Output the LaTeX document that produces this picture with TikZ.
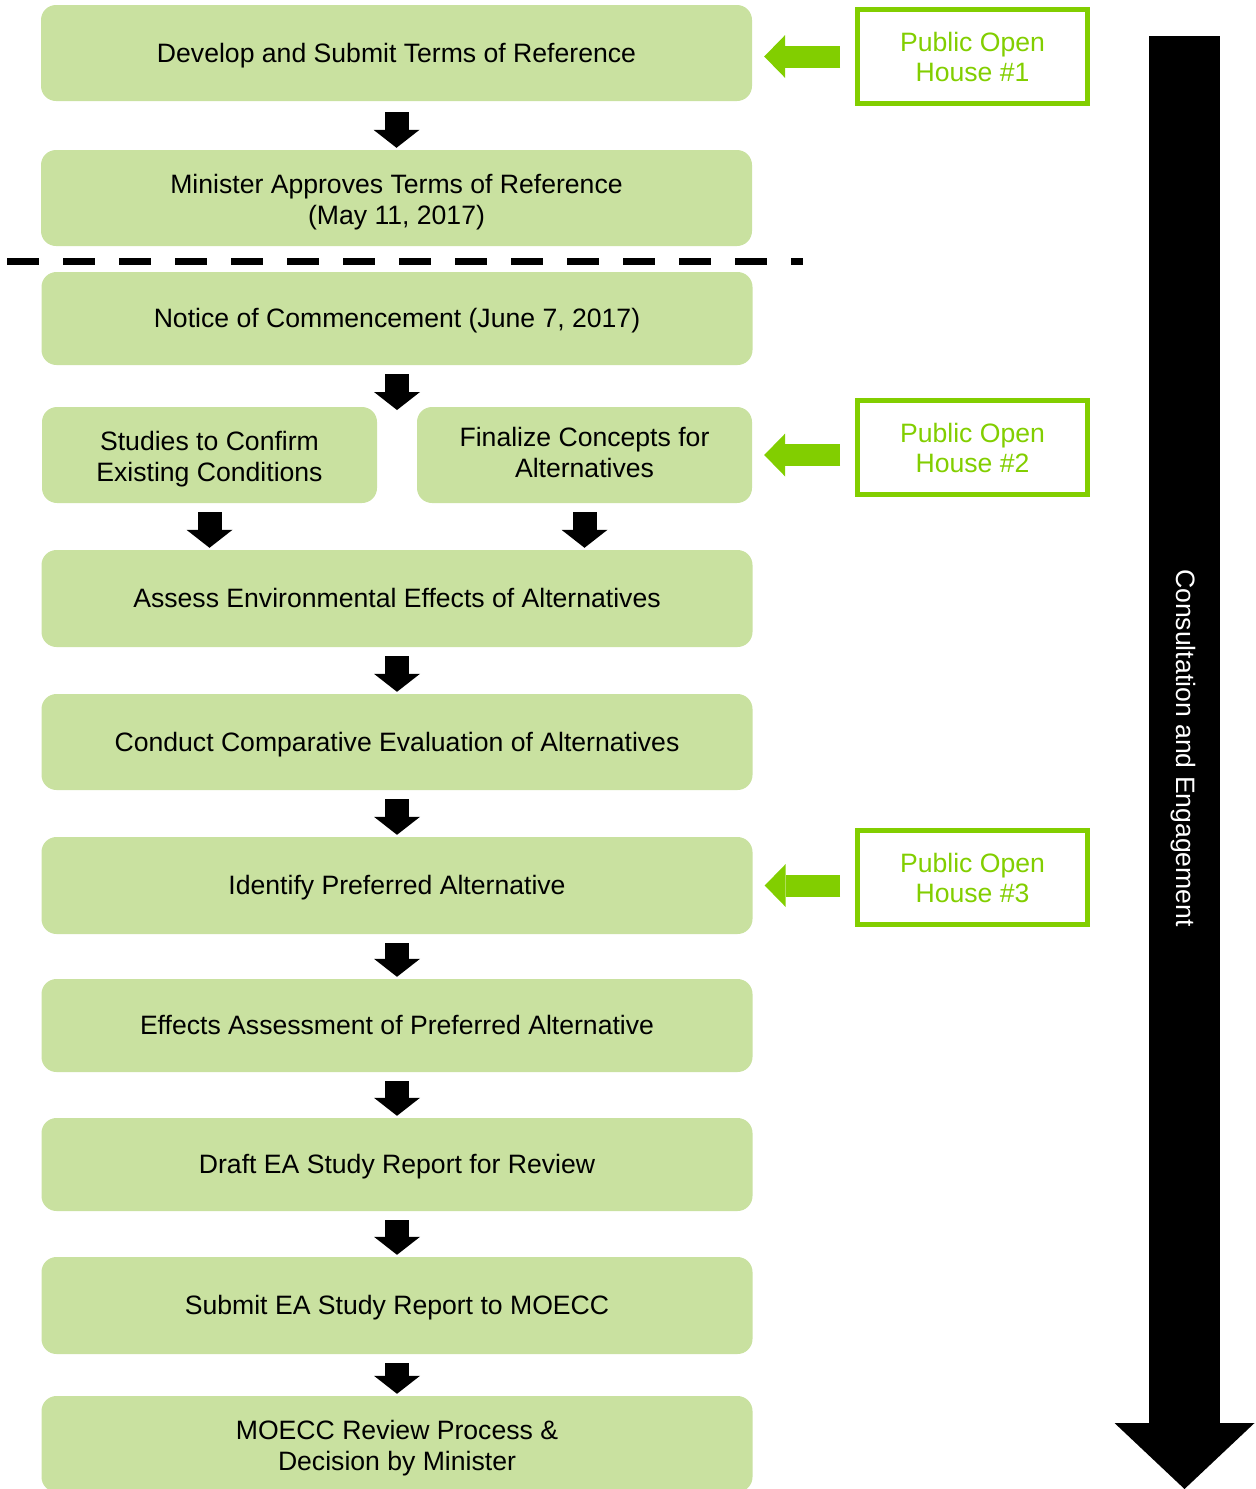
\documentclass[tikz,border=0pt]{standalone}
\usepackage{fontspec}
\setmainfont{Liberation Sans}
\usetikzlibrary{arrows.meta}
\definecolor{stepfill}{RGB}{201,225,160}
\definecolor{pohgreen}{RGB}{130,206,0}
\newcommand{\upstrut}{\rule{0pt}{27pt}}
\tikzset{
  stepbox/.style={fill=stepfill, rounded corners=15pt, minimum height=96pt, inner sep=0pt,
    align=center, font=\fontsize{26.6}{31}\selectfont,
    execute at begin node={\rule{0pt}{0.905em}},
    execute at end node={\rule[-0.212em]{0pt}{0.212em}}},
  widebox/.style={stepbox, minimum width=711pt},
  halfbox/.style={stepbox, minimum width=335pt},
  pohbox/.style={draw=pohgreen, line width=5pt, text=pohgreen, minimum width=230pt,
    minimum height=94pt, inner sep=0pt, align=center, font=\fontsize{26.6}{30}\selectfont},
  downarrow/.style={line width=24pt, -{Triangle[width=46pt,length=18pt,line width=0pt]},
    shorten <=9pt, shorten >=2pt},
  leftarrow/.style={draw=pohgreen, line width=22pt, -{Triangle[width=43pt,length=21pt,line width=0pt]},
    shorten <=15pt, shorten >=12pt}
}
\begin{document}
\begin{tikzpicture}[x=1pt, y=-1pt]
  \useasboundingbox (0,0) rectangle (1256,1489);
  % Fasi
  \node[widebox] (tor) at (396.5,53) {Develop and Submit Terms of Reference};
  \node[widebox] (approve) at (396.5,198) {\upstrut Minister Approves Terms of Reference\\(May 11, 2017)};
  \node[widebox, minimum height=93pt] (notice) at (397,318.5) {Notice of Commencement (June 7, 2017)};
  \node[halfbox] (studies) at (209.5,455) {\upstrut Studies to Confirm\\Existing Conditions};
  \node[halfbox] (concepts) at (584.5,455) {Finalize Concepts for\\Alternatives};
  \node[widebox, minimum height=97pt] (assess) at (397,598.5) {Assess Environmental Effects of Alternatives};
  \node[widebox] (compare) at (397,742) {Conduct Comparative Evaluation of Alternatives};
  \node[widebox, minimum height=97pt] (prefer) at (397,885.5) {Identify Preferred Alternative};
  \node[widebox, minimum height=93pt] (effects) at (397,1025.5) {Effects Assessment of Preferred Alternative};
  \node[widebox, minimum height=93pt] (draft) at (397,1164.5) {Draft EA Study Report for Review};
  \node[widebox, minimum height=97pt] (submit) at (397,1305.5) {Submit EA Study Report to MOECC};
  \node[widebox] (decision) at (397,1444) {\upstrut MOECC Review Process \&\\Decision by Minister};

  % Frecce
  \draw[downarrow, shorten <=11pt] (tor.south) -- (approve.north);
  \coordinate (split) at (397,410);
  \draw[downarrow, shorten >=0pt] (notice.south) -- (split);
  \draw[downarrow] (studies.south) -- (studies.south |- assess.north);
  \draw[downarrow] (concepts.south) -- (concepts.south |- assess.north);
  \draw[downarrow] (assess.south) -- (compare.north);
  \draw[downarrow] (compare.south) -- (prefer.north);
  \draw[downarrow] (prefer.south) -- (effects.north);
  \draw[downarrow] (effects.south) -- (draft.north);
  \draw[downarrow] (draft.south) -- (submit.north);
  \draw[downarrow] (submit.south) -- (decision.north);

  % Linea tratteggiata
  \coordinate (cutL) at (7,261);
  \coordinate (cutR) at (803,261);
  \draw[line width=7pt, dash pattern=on 32pt off 24pt] (cutL) -- (cutR);

  % Open house
  \node[pohbox] (poh1) at (972.5,56.5) {Public Open\\House \#1};
  \node[pohbox] (poh2) at (972.5,447.5) {Public Open\\House \#2};
  \node[pohbox] (poh3) at (972.5,877.5) {Public Open\\House \#3};
  \draw[leftarrow] (poh1.west) -- (poh1.west -| tor.east);
  \draw[leftarrow] (poh2.west |- concepts.east) -- (concepts.east);
  \draw[leftarrow] (poh3.west |- prefer.east) -- (prefer.east);

  % Consultazione
  \coordinate (ceTop) at (1184.5,36);
  \coordinate (ceEnd) at (1184.5,1489);
  \draw[line width=71pt, -{Triangle[width=140pt,length=66pt,line width=0pt]}] (ceTop) -- (ceEnd);
  \node[rotate=-90, text=white, font=\fontsize{26.6}{31}\selectfont] (ce) at (1183,748) {Consultation and Engagement};
\end{tikzpicture}
\end{document}
